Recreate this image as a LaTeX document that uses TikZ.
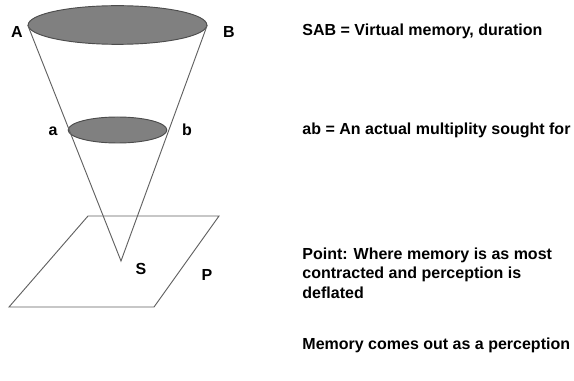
\documentclass[tikz,border=0pt]{standalone}
\usepackage{fontspec}
\setmainfont{Liberation Sans}
\usetikzlibrary{shapes.geometric}

\begin{document}
\begin{tikzpicture}[
    x=0.75pt, y=-0.75pt,
    line width=0.7pt,
    draw=black!62,
    disc/.style={
        ellipse,
        draw=black!70,
        fill=black!50,
        inner sep=0pt,
    },
    letter/.style={font=\bfseries\fontsize{12}{14}\selectfont, inner sep=0pt},
    note/.style={
        anchor=west,
        align=left,
        inner sep=0pt,
        font=\bfseries\fontsize{12}{14.6}\selectfont,
    },
]
    \useasboundingbox (0,0) rectangle (574,381);

    % the plane P
    \draw (88,216) -- (219,216) -- (154,307) -- (9,307) -- cycle;

    % cone of memory
    \coordinate (apex) at (121,261);
    \node[disc, minimum width=134pt, minimum height=29pt] (top) at (117.5,25) {};
    \node[disc, minimum width=74pt, minimum height=19.5pt] (mid) at (117.5,130) {};
    \draw (top.west) -- (apex) -- (top.east);

    \node[letter] (lA) at (17,32) {A};
    \node[letter] (lB) at (229,32) {B};
    \node[letter] (la) at (53,131) {a};
    \node[letter] (lb) at (187,130) {b};
    \node[letter] (lS) at (141,269) {S};
    \node[letter] (lP) at (207,275) {P};

    \node[note] (n1) at (302,31) {SAB = Virtual memory, duration};
    \node[note] (n2) at (302,130) {ab = An actual multiplity sought for};
    \node[note] (n3) at (302,273) {Point: Where memory is as most\\contracted and perception is\\deflated};
    \node[note] (n4) at (302,345) {Memory comes out as a perception};

\end{tikzpicture}
\end{document}
